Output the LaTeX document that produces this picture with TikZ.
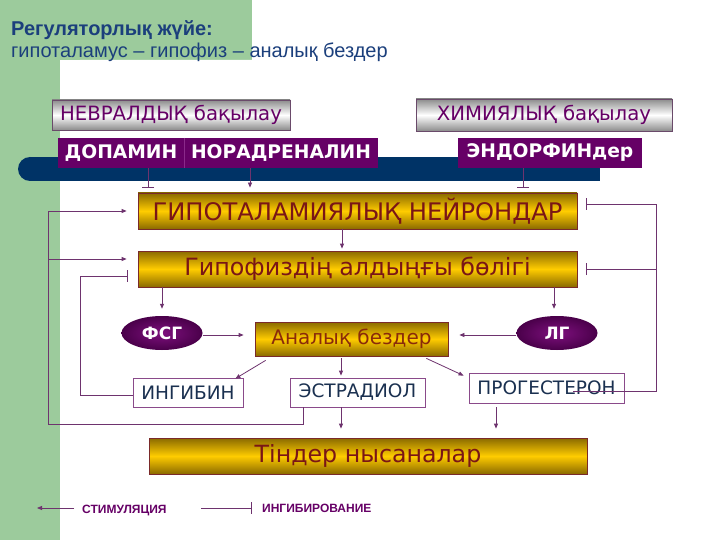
\documentclass[tikz,border=0pt]{standalone}
\usepackage{fontspec}
\setmainfont{DejaVu Sans}
\newfontfamily\arialf{Liberation Sans}
\usetikzlibrary{arrows.meta,shapes.geometric,shadings,calc}
\definecolor{sage}{HTML}{9CCB9C}
\definecolor{navybar}{HTML}{003366}
\definecolor{titleblue}{HTML}{1B3F7C}
\definecolor{plum}{HTML}{660066}
\definecolor{plumdark}{HTML}{4A004A}
\definecolor{plumlight}{HTML}{7E107E}
\definecolor{plumsep}{HTML}{8A2A8A}
\definecolor{linec}{HTML}{6E336E}
\definecolor{golddark}{HTML}{8A6A00}
\definecolor{goldlight}{HTML}{FFCC00}
\definecolor{goldborder}{HTML}{7A2A2A}
\definecolor{goldtext}{HTML}{7A1616}
\definecolor{ovtext}{HTML}{8A2A0A}
\definecolor{graydark}{HTML}{8C8C8C}
\definecolor{grayborder}{HTML}{6A4A6A}
\definecolor{wborder}{HTML}{8A4A8A}
\definecolor{wtext}{HTML}{1A3050}
\tikzset{
  goldbox/.style={draw=goldborder, line width=0.8pt, top color=golddark, bottom color=golddark, middle color=goldlight, inner sep=0pt, text=goldtext},
  graybox/.style={draw=grayborder, line width=0.8pt, top color=graydark, bottom color=graydark, middle color=white, inner sep=0pt, text=plum, font=\fontsize{19.7}{23}\selectfont},
  plumbox/.style={fill=plum, inner sep=0pt, text=white, font=\bfseries\fontsize{18.7}{22}\selectfont},
  oval/.style={ellipse, inner sep=0pt, inner color=plumlight, outer color=plumdark, text=white, minimum width=81pt, minimum height=34pt, font=\bfseries\fontsize{17}{20}\selectfont},
  whitebox/.style={draw=wborder, line width=0.8pt, fill=white, inner sep=0pt, text=wtext, font=\fontsize{18.5}{22}\selectfont},
  conn/.style={draw=linec, line width=0.8pt},
  stim/.style={conn, -{Triangle[length=5pt,width=4pt]}},
  inhib/.style={conn, -{Bar[width=12pt,line width=0.8pt]}},
  legtext/.style={text=plum, inner sep=0pt, font=\arialf\bfseries\fontsize{12}{14}\selectfont},
}
\begin{document}
\begin{tikzpicture}[x=1pt,y=-1pt]
\useasboundingbox (0,0) rectangle (720,540);
% background
\fill[white] (0,0) rectangle (720,540);
\fill[sage] (0,0) rectangle (252,60);
\fill[sage] (0,0) rectangle (60,540);
\fill[white] (60,560) [rounded corners=20pt] -- (60,60) -- (740,60) [sharp corners] -- (740,560) -- cycle;
% title
\node[anchor=base west, inner sep=0pt, text=titleblue, font=\arialf\bfseries\fontsize{20}{24}\selectfont] (title) at (11,36) {Регуляторлық жүйе:};
\node[anchor=base west, inner sep=0pt, text=titleblue, font=\arialf\fontsize{20}{24}\selectfont] (subtitle) at (11,58) {гипоталамус – гипофиз – аналық бездер};
% navy bar
\fill[navybar] (30,169) circle[radius=12];
\fill[navybar] (30,157) rectangle (600,181);
% control boxes
\node[graybox, minimum width=238pt, minimum height=30pt] (nevr) at (171,115) {НЕВРАЛДЫҚ бақылау};
\node[graybox, minimum width=256pt, minimum height=32pt] (chem) at (544,115) {ХИМИЯЛЫҚ бақылау};
\node[plumbox, minimum width=126pt, minimum height=30pt] (dop) at (121,153) {ДОПАМИН};
\node[plumbox, minimum width=194pt, minimum height=30pt] (nor) at (281,153) {НОРАДРЕНАЛИН};
\draw[plumsep, line width=0.5pt] (dop.north east) -- (dop.south east);
\node[plumbox, minimum width=184pt, minimum height=30pt] (endo) at (550,153) {ЭНДОРФИНдер};
% main boxes
\node[goldbox, minimum width=439pt, minimum height=36pt, font=\fontsize{24.2}{28}\selectfont] (hyp) at (357.5,211) {ГИПОТАЛАМИЯЛЫҚ НЕЙРОНДАР};
\node[goldbox, minimum width=439pt, minimum height=36pt, font=\fontsize{23.8}{28}\selectfont] (pit) at (357.5,269) {Гипофиздің алдыңғы бөлігі};
\node[oval] (fsg) at (162,333) {ФСГ};
\node[oval] (lg) at (557,333) {ЛГ};
\node[goldbox, minimum width=193pt, minimum height=34pt, font=\fontsize{20}{24}\selectfont, text=ovtext] (ovary) at (351.5,339) {Аналық бездер};
\node[whitebox, minimum width=110pt, minimum height=29pt] (inh) at (188,392.5) {ИНГИБИН};
\node[whitebox, minimum width=135pt, minimum height=29pt] (est) at (357.5,392.5) {ЭСТРАДИОЛ};
\node[whitebox, minimum width=155pt, minimum height=30pt] (prog) at (546.5,388) {ПРОГЕСТЕРОН};
\node[goldbox, minimum width=438pt, minimum height=36pt, font=\fontsize{23.7}{28}\selectfont] (tissue) at (368,456) {Тіндер нысаналар};
% coordinates for connector ends
\coordinate (dopout) at ([xshift=27pt]dop.south);
\coordinate (norout) at ([xshift=-31pt]nor.south);
\coordinate (endout) at ([xshift=-27pt]endo.south);
\coordinate (hp) at ([xshift=-15.5pt]hyp.south);
\coordinate (oe) at ([xshift=-10.5pt]ovary.south);
\coordinate (estout) at ([xshift=14pt]est.south west);
\coordinate (lx) at (48,424);
\coordinate (ibend) at (80,276);
\coordinate (ps) at (573,391);
\coordinate (rx) at (656,391);
\coordinate (progout) at ([xshift=-50.5pt]prog.south);
% connectors top
\draw[inhib, shorten >=5pt] (dopout) -- (dopout |- hyp.north);
\draw[stim, shorten >=5pt] (norout) -- (norout |- hyp.north);
\draw[inhib, shorten >=5pt] (endout) -- (endout |- hyp.north);
\draw[stim, shorten >=2pt] (hp) -- (hp |- pit.north);
\draw[stim, shorten >=7pt] (fsg.north |- pit.south) -- (fsg.north);
\draw[stim, shorten >=7pt] ([xshift=-3pt]lg.north |- pit.south) -- ([xshift=-3pt]lg.north);
\draw[stim, shorten >=11pt] ([yshift=-2pt]fsg.east) -- ([yshift=-2pt]fsg.east -| ovary.west);
\draw[stim, shorten >=11pt] ([yshift=-2pt]lg.west) -- ([yshift=-2pt]lg.west -| ovary.east);
% from ovary
\draw[stim] ($(ovary.south west)+(11,4)$) -- ($(inh.north east)+(-8,1)$);
\draw[stim, shorten >=2pt] ([yshift=-2pt]oe) -- (oe |- est.north);
\draw[stim] ($(ovary.south east)+(-22,2)$) -- ($(prog.north west)+(-5,3)$);
% to tissues
\draw[stim, shorten >=9pt] (oe |- est.south) -- (oe |- tissue.north);
\draw[stim, shorten >=9pt, shorten <=4pt] (progout) -- (progout |- tissue.north);
% feedback left (estradiol stimulation)
\draw[stim, shorten >=11pt] (estout) |- (lx) |- (hyp.west);
\draw[stim, shorten >=11pt] (lx |- 0,259) -- (pit.west |- 0,259);
% inhibin inhibition
\draw[inhib, shorten >=10pt] ([yshift=-3pt]inh.west) -| (ibend) -- (ibend -| pit.west);
% progesterone inhibition
\draw[inhib, shorten >=9pt] (ps) -- (rx) |- ([yshift=7pt]hyp.east);
\draw[inhib, shorten >=9pt] (rx |- pit.east) -- (pit.east);
% legend
\coordinate (legA) at (74,508);
\coordinate (legB) at (37,508);
\coordinate (legC) at (201,508);
\coordinate (legD) at (252,508);
\draw[stim] (legA) -- (legB);
\draw[inhib] (legC) -- (legD);
\node[legtext, anchor=west] (stimtxt) at (82,511) {СТИМУЛЯЦИЯ};
\node[legtext, anchor=west] (inhtxt) at (262,508) {ИНГИБИРОВАНИЕ};
\end{tikzpicture}
\end{document}
